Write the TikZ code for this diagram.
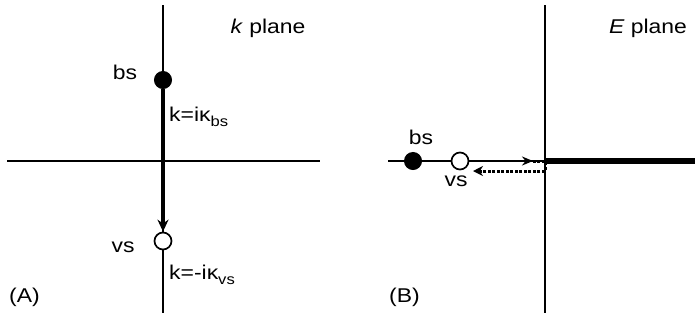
\documentclass[tikz,border=0pt]{standalone}
\usepackage{fontspec}
\setmainfont[FakeStretch=1.15]{Liberation Sans}
\usetikzlibrary{arrows.meta,calc,positioning}
\newcommand\polesub[1]{\raisebox{-0.45ex}{\fontsize{14.5}{16}\selectfont #1}}

\begin{document}
\begin{tikzpicture}[
  x=1bp,y=-1bp,
  >=Stealth,
  axis/.style={draw=black,line width=1.8pt},
  flow/.style={draw=black,line width=3.4pt},
  cut/.style={draw=black,line width=5.5pt},
  bound/.style={circle,fill=black,draw=black,line width=1pt,minimum size=17bp,inner sep=0pt},
  virtual/.style={circle,fill=white,draw=black,line width=1.7pt,minimum size=17bp,inner sep=0pt},
  lbl/.style={font=\fontsize{20}{22}\selectfont,inner sep=1pt},
  retreat/.style={draw=black,line width=3pt,dash pattern=on 3pt off 1.5pt}
]
  \useasboundingbox (0,0) rectangle (695,320);

  % (A) complex k plane.
  \coordinate (kT) at (163,5);
  \coordinate (kB) at (163,313);
  \coordinate (kL) at (7,161);
  \coordinate (kR) at (320,161);
  \draw[axis] (kT) -- (kB);
  \draw[axis] (kL) -- (kR);
  \node[bound] (kbs) at (163,80) {};
  \node[virtual] (kvs) at (163,241) {};
  \draw[flow,-{Stealth[length=12bp,width=11bp]}] (kbs) -- (kvs);
  \node[lbl] (kbslbl) at (125,72) {bs};
  \node[lbl] (kvslbl) at (123,247) {vs};
  \node[lbl,anchor=west] (kbseq) at (168,117) {k=iκ\polesub{bs}};
  \node[lbl,anchor=west] (kvseq) at (168,275) {k=-iκ\polesub{vs}};
  \node[lbl,anchor=west] (Atag) at (8,297) {(A)};
  \node[lbl] (kname) at (268,28) {\textit{k} plane};

  % (B) complex E plane with the cut on the positive axis.
  \coordinate (ET) at (545,5);
  \coordinate (EB) at (545,313);
  \coordinate (EL) at (388,161);
  \coordinate (E0) at (545,161);
  \coordinate (ER) at (695,161);
  \draw[axis] (ET) -- (EB);
  \draw[axis] (EL) -- (E0);
  \draw[cut] (E0) -- (ER);
  \node[bound] (Ebs) at (413,161) {};
  \node[virtual] (Evs) at (460,161) {};
  \node[lbl] (Ebslbl) at (421,137) {bs};
  \node[lbl] (Evslbl) at (456,181) {vs};

  % Pole moves to threshold, then returns on the second sheet.
  \coordinate (Eturn) at (533,161);
  \coordinate (Eback) at (473,171);
  \draw[axis,-{Stealth[length=11bp,width=9bp]}] (Evs) -- (Eturn);
  \draw[retreat,-{Stealth[length=10bp,width=10bp]}] (Eturn) -- (E0) -- (545,171) -- (Eback);
  \node[lbl,anchor=west] (Btag) at (388,297) {(B)};
  \node[lbl] (Ename) at (648,28) {\textit{E} plane};
\end{tikzpicture}
\end{document}
